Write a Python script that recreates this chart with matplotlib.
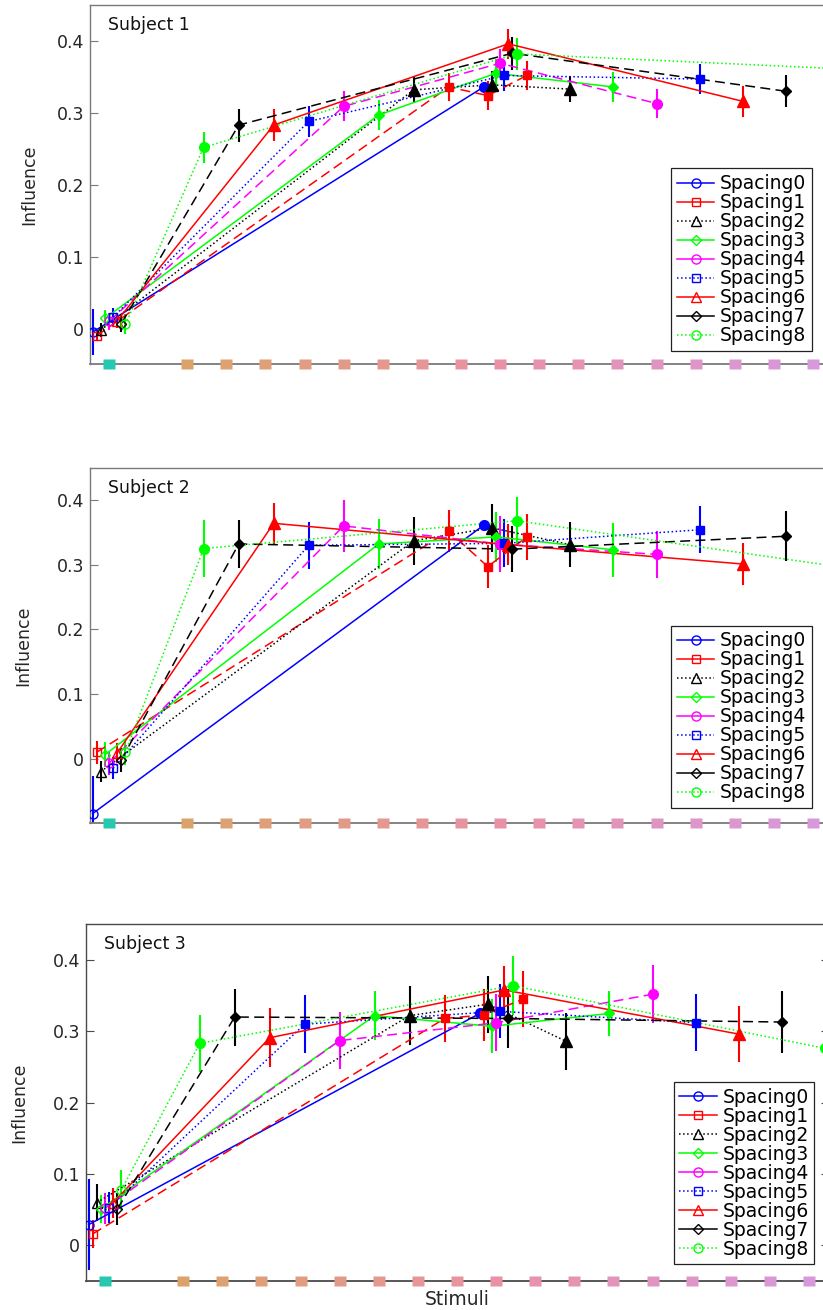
import numpy as np
import matplotlib.pyplot as plt
from matplotlib.colors import LinearSegmentedColormap
from matplotlib.lines import Line2D

# Series styles for the nine spacing conditions (MATLAB-like colour/line/marker specs)
spacing_names = [f"Spacing{k}" for k in range(9)]
spacing_colors = ["#0000ff", "#ff0000", "#000000", "#00ff00", "#ff00ff",
                  "#0000ff", "#ff0000", "#000000", "#00ff00"]
spacing_styles = ["-", "--", ":", "-", "--", ":", "-", "--", ":"]
spacing_markers = ["o", "s", "^", "D", "o", "s", "^", "D", "o"]
marker_sizes = {"o": 7, "s": 6, "^": 8, "D": 5.5}
dash_pattern = (6.5, 3.5)

# stimulus positions shown along the x axis
stim_pos = [0, 2, 3, 4, 5, 6, 7, 8, 9, 10, 11, 12, 13, 14, 15, 16, 17, 18]
target_pos = 10

# Subject 1: influence at the first stimulus, then at (10-k, 10, 10+k)
s1_first = [-0.005, -0.010, -0.002, 0.014, 0.010, 0.016, 0.011, 0.007, 0.006]
s1_first_err = [0.032, 0.008, 0.010, 0.012, 0.012, 0.013, 0.010, 0.012, 0.014]
s1_pts = [
    [0.336],
    [0.336, 0.324, 0.352],
    [0.332, 0.339, 0.333],
    [0.297, 0.355, 0.336],
    [0.309, 0.369, 0.313],
    [0.288, 0.352, 0.347],
    [0.283, 0.396, 0.316],
    [0.283, 0.383, 0.330],
    [0.252, 0.382, 0.362],
]
s1_pts_err = [
    [0.006],
    [0.019, 0.020, 0.020],
    [0.018, 0.019, 0.018],
    [0.021, 0.020, 0.021],
    [0.021, 0.020, 0.020],
    [0.021, 0.021, 0.021],
    [0.022, 0.021, 0.022],
    [0.023, 0.023, 0.022],
    [0.022, 0.022, 0.020],
]

# Subject 2
s2_first = [-0.085, 0.010, -0.020, 0.006, -0.007, -0.015, 0.009, -0.002, 0.010]
s2_first_err = [0.058, 0.018, 0.016, 0.019, 0.018, 0.017, 0.015, 0.018, 0.020]
s2_pts = [
    [0.361],
    [0.352, 0.297, 0.343],
    [0.337, 0.357, 0.331],
    [0.332, 0.343, 0.323],
    [0.360, 0.332, 0.316],
    [0.330, 0.333, 0.354],
    [0.364, 0.331, 0.301],
    [0.332, 0.324, 0.344],
    [0.325, 0.368, 0.299],
]
s2_pts_err = [
    [0.005],
    [0.033, 0.033, 0.035],
    [0.037, 0.037, 0.035],
    [0.038, 0.039, 0.042],
    [0.040, 0.043, 0.036],
    [0.036, 0.037, 0.036],
    [0.032, 0.032, 0.033],
    [0.037, 0.036, 0.039],
    [0.044, 0.037, 0.035],
]

# Subject 3
s3_first = [0.029, 0.016, 0.060, 0.051, 0.052, 0.053, 0.060, 0.051, 0.078]
s3_first_err = [0.064, 0.020, 0.026, 0.020, 0.022, 0.022, 0.021, 0.023, 0.028]
s3_pts = [
    [0.325],
    [0.318, 0.323, 0.345],
    [0.322, 0.338, 0.286],
    [0.322, 0.307, 0.325],
    [0.287, 0.312, 0.352],
    [0.310, 0.328, 0.312],
    [0.291, 0.358, 0.296],
    [0.320, 0.318, 0.313],
    [0.283, 0.364, 0.276],
]
s3_pts_err = [
    [0.005],
    [0.033, 0.036, 0.039],
    [0.041, 0.040, 0.040],
    [0.034, 0.038, 0.032],
    [0.040, 0.040, 0.041],
    [0.041, 0.038, 0.040],
    [0.041, 0.034, 0.039],
    [0.040, 0.041, 0.043],
    [0.040, 0.041, 0.035],
]

subjects = [
    ("Subject 1", s1_first, s1_first_err, s1_pts, s1_pts_err, (-0.05, 0.45)),
    ("Subject 2", s2_first, s2_first_err, s2_pts, s2_pts_err, (-0.10, 0.45)),
    ("Subject 3", s3_first, s3_first_err, s3_pts, s3_pts_err, (-0.05, 0.45)),
]

W, H = 823, 1310
# axes boxes in pixels: left, top, bottom (right side runs past the canvas)
ax_px = [(89.5, 5, 364.5), (89.5, 467.7, 823.3), (85.5, 924.3, 1281)]
ax_width_px = 743
legend_corner_px = [(812, 350.7), (812, 808), (814.3, 1264.3)]
ylabel_x = [-0.0814, -0.0888, -0.0888]
spine_colors = ["#7a7a7a", "#7a7a7a", "#4a4a4a"]

jitter = 0.105
stim_cmap = LinearSegmentedColormap.from_list(
    "stim", ["#dba36a", "#e992a6", "#d898dc"])
stim_colors = ["#26c9b0"] + [stim_cmap(i / 16) for i in range(17)]
rect_marker = [(-1.3, -1), (1.3, -1), (1.3, 1), (-1.3, 1), (-1.3, -1)]

plt.rcParams["font.family"] = ["DejaVu Sans"]
fig = plt.figure(figsize=(W / 100, H / 100), dpi=100)


def style_line(line, ls):
    if ls == "--":
        line.set_dashes(dash_pattern)
    else:
        line.set_linestyle(ls)


for p, (title, first, first_err, pts, pts_err, ylim) in enumerate(subjects):
    left, top, bottom = ax_px[p]
    ax = fig.add_axes([left / W, 1 - bottom / H, ax_width_px / W, (bottom - top) / H])

    for k in range(9):
        if k == 0:
            xs = [0, target_pos]
        else:
            xs = [0, target_pos - k, target_pos, target_pos + k]
        xs = np.array(xs, dtype=float) + (k - 4) * jitter
        ys = [first[k]] + pts[k]
        es = [first_err[k]] + pts_err[k]
        c, ls, mk = spacing_colors[k], spacing_styles[k], spacing_markers[k]
        ms = marker_sizes[mk]
        ax.errorbar(xs, ys, yerr=es, fmt="none", ecolor=c, elinewidth=1.5,
                    capsize=0, zorder=2)
        (line,) = ax.plot(xs, ys, color=c, lw=1.1, zorder=3)
        style_line(line, ls)
        ax.plot(xs[:1], ys[:1], ls="none", marker=mk, ms=ms - 0.5, mfc="none",
                mec=c, mew=1.0, zorder=4)
        ax.plot(xs[1:], ys[1:], ls="none", marker=mk, ms=ms, mfc=c, mec=c,
                zorder=4)

    # stimulus markers along the bottom axis
    for pos, col in zip(stim_pos, stim_colors):
        ax.plot([pos], [ylim[0]], ls="none", marker=rect_marker, ms=8.6,
                mfc=col, mec="none", clip_on=False, zorder=6)

    ax.set_xlim(-0.5, 18.5)
    ax.set_ylim(*ylim)
    ax.set_xticks([])
    ax.set_yticks([0, 0.1, 0.2, 0.3, 0.4])
    ax.set_yticklabels(["0", "0.1", "0.2", "0.3", "0.4"])
    ax.tick_params(axis="y", direction="in", length=5.8, width=0.8,
                   right=True, labelsize=12.5, colors=spine_colors[p], pad=4)
    ax.tick_params(axis="y", labelcolor="#262626")
    for side in ax.spines.values():
        side.set_color(spine_colors[p])
        side.set_linewidth(1.0)
    ax.spines["bottom"].set_linewidth(1.3)

    ax.set_ylabel("Influence", fontsize=12.5, color="#262626", va="center")
    ax.yaxis.set_label_coords(ylabel_x[p], 0.5)
    ax.text(18 / ax_width_px, 1 - 11 / (bottom - top), title,
            transform=ax.transAxes, fontsize=12.5, va="top", ha="left",
            color="#111111")

    handles = []
    for k in range(9):
        ls = spacing_styles[k] if spacing_styles[k] == ":" else "-"
        handles.append(Line2D([], [], color=spacing_colors[k], ls=ls, lw=1.1,
                              marker=spacing_markers[k],
                              ms=marker_sizes[spacing_markers[k]] - 0.5,
                              mfc="none", mec=spacing_colors[k]))
    lx, ly = legend_corner_px[p]
    leg = ax.legend(handles, spacing_names, loc="lower right",
                    bbox_to_anchor=(lx / W, 1 - ly / H),
                    bbox_transform=fig.transFigure, fontsize=13.5,
                    frameon=True, fancybox=False, framealpha=1,
                    edgecolor="#222222", labelspacing=0.0, borderpad=0.3,
                    handlelength=2.0, handletextpad=0.3, borderaxespad=0)
    leg.get_frame().set_linewidth(0.9)

    if p == 2:
        ax.set_xlabel("Stimuli", fontsize=13.5, color="#262626")
        ax.xaxis.set_label_coords(0.5, -0.024)

fig.savefig("out.png", dpi=100)
